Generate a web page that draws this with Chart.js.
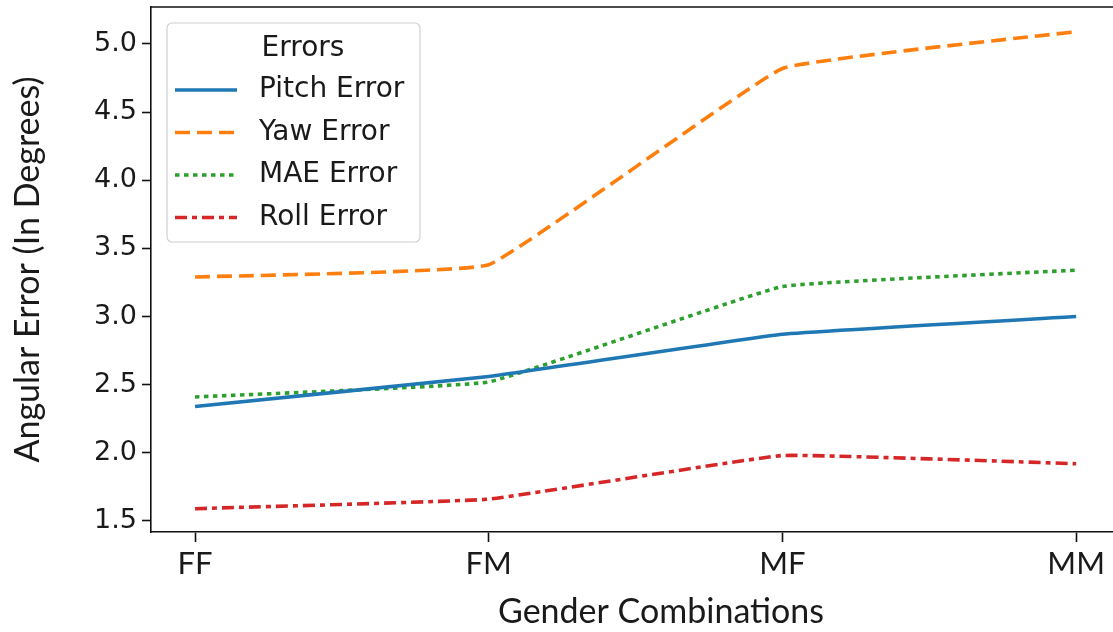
<!DOCTYPE html>
<html>
<head>
<meta charset="utf-8">
<script src="https://cdn.jsdelivr.net/npm/chart.js@4.4.1/dist/chart.umd.min.js"></script>
<style>
  html, body { margin: 0; padding: 0; background: #ffffff; overflow: hidden; }
  #wrap { width: 1113px; height: 632px; position: relative; overflow: hidden; }
  #chart { display: block; }
</style>
</head>
<body>
<div id="wrap"><canvas id="chart" width="1171" height="632"></canvas></div>
<script>
// Gender pairings on the x axis
const categories = ['FF', 'FM', 'MF', 'MM'];

// Angular error per pairing, in degrees
const pitchError = [2.34, 2.56, 2.87, 3.00];
const yawError   = [3.29, 3.38, 4.82, 5.09];
const maeError   = [2.41, 2.52, 3.22, 3.34];
const rollError  = [1.59, 1.66, 1.98, 1.92];

// Y tick values
const yTicks = [1.5, 2.0, 2.5, 3.0, 3.5, 4.0, 4.5, 5.0];

const seriesNames = ['Pitch Error', 'Yaw Error', 'MAE Error', 'Roll Error'];

const tickFont = '"DejaVu Sans", sans-serif';
const labelFont = 'Lato, "Open Sans", sans-serif';

function toPoints(values) {
  return values.map((v, i) => ({ x: i, y: v }));
}

// Frame line along the top of the plot area
const topSpine = {
  id: 'topSpine',
  afterDraw(chart) {
    const { ctx, chartArea } = chart;
    ctx.save();
    ctx.strokeStyle = '#111111';
    ctx.lineWidth = 1.6;
    ctx.beginPath();
    ctx.moveTo(chartArea.left, chartArea.top);
    ctx.lineTo(chartArea.right, chartArea.top);
    ctx.stroke();
    ctx.restore();
  }
};

// Boxed legend in the upper left with a title row
const boxLegend = {
  id: 'boxLegend',
  afterDatasetsDraw(chart) {
    const { ctx, chartArea } = chart;
    const x0 = chartArea.left + 16, y0 = chartArea.top + 16;
    const w = 253, h = 219, r = 5;
    ctx.save();
    ctx.fillStyle = 'rgba(255,255,255,0.8)';
    ctx.strokeStyle = '#d0d0d0';
    ctx.lineWidth = 1.2;
    ctx.beginPath();
    ctx.roundRect(x0, y0, w, h, r);
    ctx.fill();
    ctx.stroke();

    ctx.fillStyle = '#1a1a1a';
    ctx.font = '28px ' + tickFont;
    ctx.textBaseline = 'middle';
    ctx.textAlign = 'center';
    ctx.fillText('Errors', x0 + 136, y0 + 26);

    ctx.textAlign = 'left';
    chart.data.datasets.forEach((ds, i) => {
      const cy = y0 + 67 + i * 42.5;
      ctx.strokeStyle = ds.borderColor;
      ctx.lineWidth = ds.borderWidth;
      ctx.setLineDash(ds.borderDash || []);
      ctx.lineCap = 'butt';
      ctx.beginPath();
      ctx.moveTo(x0 + 8, cy);
      ctx.lineTo(x0 + 70, cy);
      ctx.stroke();
      ctx.setLineDash([]);
      ctx.fillStyle = '#1a1a1a';
      ctx.fillText(ds.label, x0 + 92, cy);
    });
    ctx.restore();
  }
};

const palette = ['#1f77b4', '#ff7f0e', '#2ca02c', '#d62728'];
const dashes = [[], [15, 7], [4.5, 4.5], [12, 5, 5, 5]];
const values = [pitchError, yawError, maeError, rollError];

new Chart(document.getElementById('chart'), {
  type: 'line',
  data: {
    datasets: values.map((vals, i) => ({
      label: seriesNames[i],
      data: toPoints(vals),
      borderColor: palette[i],
      backgroundColor: palette[i],
      borderWidth: 3.6,
      borderDash: dashes[i],
      borderCapStyle: 'butt',
      pointRadius: 0,
      tension: 0.08,
      fill: false
    }))
  },
  options: {
    responsive: false,
    animation: false,
    layout: { padding: { top: 7, left: 0, right: 0, bottom: 0 } },
    plugins: {
      legend: { display: false },
      tooltip: { enabled: false }
    },
    scales: {
      x: {
        type: 'linear',
        min: -0.15,
        max: 3.323,
        afterBuildTicks(scale) {
          scale.ticks = categories.map((c, i) => ({ value: i }));
        },
        afterFit(scale) {
          scale.height = 100;
          scale.paddingLeft = 0;
          scale.paddingRight = 0;
        },
        ticks: {
          callback: (v) => categories[v],
          font: { family: labelFont, size: 31 },
          color: '#1a1a1a',
          padding: 3,
          maxRotation: 0,
          autoSkip: false
        },
        grid: {
          drawOnChartArea: false,
          drawTicks: true,
          tickLength: 10,
          tickWidth: 1.6,
          color: '#111111'
        },
        border: { display: true, color: '#111111', width: 1.6 },
        title: {
          display: true,
          text: 'Gender Combinations',
          font: { family: labelFont, size: 34 },
          color: '#1a1a1a',
          padding: { top: 8, bottom: 0 }
        }
      },
      y: {
        min: 1.419,
        max: 5.271,
        afterBuildTicks(scale) {
          scale.ticks = yTicks.map(v => ({ value: v }));
        },
        afterFit(scale) {
          scale.width = 151;
          scale.paddingTop = 0;
          scale.paddingBottom = 0;
        },
        ticks: {
          callback: (v) => v.toFixed(1),
          font: { family: tickFont, size: 27 },
          color: '#1a1a1a',
          padding: 5
        },
        grid: {
          drawOnChartArea: false,
          drawTicks: true,
          tickLength: 9,
          tickWidth: 1.6,
          color: '#111111'
        },
        border: { display: true, color: '#111111', width: 1.6 },
        title: {
          display: true,
          text: 'Angular Error (In Degrees)',
          font: { family: labelFont, size: 34 },
          color: '#1a1a1a',
          padding: { top: 8, bottom: 0 }
        }
      }
    }
  },
  plugins: [topSpine, boxLegend]
});
</script>
</body>
</html>
